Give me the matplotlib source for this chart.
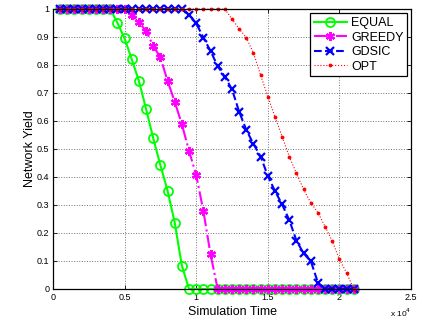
import numpy as np
import matplotlib
matplotlib.use("Agg")
import matplotlib.pyplot as plt

plt.rcParams['font.family'] = ['Liberation Sans', 'DejaVu Sans']

# Simulation time grid (steps of 500, from 500 to 21000)
time = np.arange(500, 21001, 500)

equal = [1, 1, 1, 1, 1, 1, 1, 1,
         0.95, 0.895, 0.82, 0.743, 0.643, 0.538, 0.442, 0.351, 0.237, 0.083,
         0, 0, 0, 0, 0, 0, 0, 0, 0, 0, 0, 0, 0, 0, 0, 0, 0, 0, 0, 0, 0, 0, 0, 0]
greedy = [1, 1, 1, 1, 1, 1, 1, 1, 1, 1,
          0.979, 0.952, 0.922, 0.868, 0.827, 0.743, 0.669, 0.588, 0.493, 0.407, 0.279, 0.124,
          0, 0, 0, 0, 0, 0, 0, 0, 0, 0, 0, 0, 0, 0, 0, 0, 0, 0, 0, 0]
gdsic = [1, 1, 1, 1, 1, 1, 1, 1, 1, 1, 1, 1, 1, 1, 1, 1, 1, 1,
         0.979, 0.949, 0.898, 0.85, 0.796, 0.758, 0.713, 0.633, 0.568, 0.518, 0.473,
         0.404, 0.35, 0.302, 0.246, 0.173, 0.127, 0.1, 0.023,
         0, 0, 0, 0, 0]
opt = [1, 1, 1, 1, 1, 1, 1, 1, 1, 1, 1, 1, 1, 1, 1, 1, 1, 1, 1, 1, 1, 1, 1, 1,
       0.964, 0.929, 0.898, 0.842, 0.764, 0.687, 0.615, 0.544, 0.473, 0.413, 0.356,
       0.308, 0.273, 0.223, 0.171, 0.106, 0.058, 0]

series_labels = ['EQUAL', 'GREEDY', 'GDSIC', 'OPT']
xtick_vals = [0, 5000, 10000, 15000, 20000, 25000]
xtick_labels = ['0', '0.5', '1', '1.5', '2', '2.5']
ytick_vals = [0, 0.1, 0.2, 0.3, 0.4, 0.5, 0.6, 0.7, 0.8, 0.9, 1]
ytick_labels = ['0', '0.1', '0.2', '0.3', '0.4', '0.5', '0.6', '0.7', '0.8', '0.9', '1']

fig = plt.figure(figsize=(4.33, 3.20), dpi=100)
ax = fig.add_axes([53/433, 1 - 289/320, (411 - 53)/433, (289 - 9)/320])

ax.plot(time, equal, color=(0, 1, 0), linestyle='-', linewidth=1.5, marker='o',
        markersize=6.5, markerfacecolor='none', markeredgewidth=1.3, label=series_labels[0], clip_on=False)
ax.plot(time, greedy, color=(1, 0, 1), linestyle='-.', linewidth=1.5, marker=(6, 2, 0),
        markersize=6.5, markeredgewidth=1.6, label=series_labels[1], clip_on=False)
ax.plot(time, gdsic, color=(0, 0, 1), linestyle='--', linewidth=1.5, marker='x',
        markersize=5.5, markeredgewidth=1.6, label=series_labels[2], clip_on=False)
ax.plot(time, opt, color=(1, 0, 0), linestyle=':', linewidth=0.8, marker='.',
        markersize=3.5, label=series_labels[3], clip_on=False)

ax.set_xlim(0, 25000)
ax.set_ylim(0, 1)
ax.set_xticks(xtick_vals)
ax.set_xticklabels(xtick_labels)
ax.set_yticks(ytick_vals)
ax.set_yticklabels(ytick_labels)
ax.tick_params(direction='in', length=3, width=0.6, labelsize=6.5, top=True, right=True, pad=3)
ax.tick_params(axis='y', pad=2.5)
ax.grid(True, linestyle=':', color='0.45', linewidth=0.7)
for s in ax.spines.values():
    s.set_linewidth(0.9)
    s.set_color('black')

ax.set_xlabel('Simulation Time', fontsize=9, labelpad=3)
ax.set_ylabel('Network Yield', fontsize=9, labelpad=1)
fig.text(411/433, 1 - 313/320, r'x 10$^4$', fontsize=6, ha='right', va='center')

leg = ax.legend(loc='upper right', bbox_to_anchor=((407.3 - 53)/358, (289 - 13.3)/280),
                borderaxespad=0, fontsize=9, handlelength=2.7, labelspacing=0.2,
                handletextpad=0.3, borderpad=0.3, fancybox=False, framealpha=1)
leg.get_frame().set_edgecolor('black')
leg.get_frame().set_linewidth(0.9)

fig.savefig('out.png', dpi=100)
